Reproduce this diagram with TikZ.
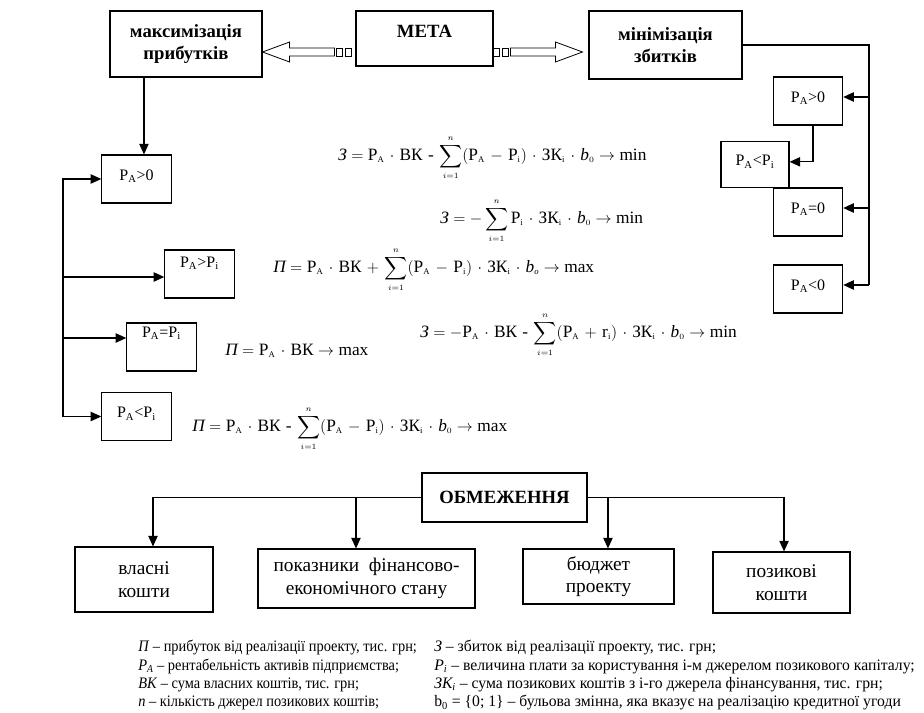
\documentclass[tikz,border=0pt,12pt]{standalone}
\usepackage{amsmath}
\usepackage{fontspec}
\setmainfont{Liberation Serif}
\newfontfamily\legfont[FakeStretch=0.9]{Liberation Serif}
\newfontfamily\legfontr[FakeStretch=0.98]{Liberation Serif}
\usepackage{tikz}
\usetikzlibrary{arrows.meta, positioning, calc}

% pieces of the formulas
\newcommand{\fPA}{\text{Р}_{\scriptscriptstyle\text{А}}}
\newcommand{\fPi}{\text{Р}_{\scriptscriptstyle\text{i}}}
\newcommand{\fVK}{\text{ВК}}
\newcommand{\fZK}{\text{ЗК}_{\scriptscriptstyle\text{i}}}
\newcommand{\fbz}{\textit{b}_{\scriptscriptstyle 0}}
\newcommand{\fZ}{\textit{З}}
\newcommand{\fPr}{\textit{П}}
\newcommand{\fhy}{\mathbin{\text{-}}}
\newcommand{\fsum}{\displaystyle\sum_{\scriptscriptstyle i=1}^{\scriptscriptstyle n}}

\tikzset{fatarrow/.pic={
    \draw[line width=0.6pt] (0,0) -- (27,-10) -- (27,-4) -- (72,-4) -- (72,4) -- (27,4) -- (27,10) -- cycle;
    \draw[line width=0.6pt] (74,-4) rectangle (80,4) (83,-4) rectangle (89,4);
}}

\begin{document}
\begin{tikzpicture}[x=0.75pt, y=-0.75pt,
        box/.style={
            draw,
            line width=0.8pt,
            align=center,
            inner sep=1pt},
        head/.style={box, font=\bfseries\fontsize{14}{17}\selectfont},
        low/.style={box, font=\fontsize{14.5}{17}\selectfont},
        cond/.style={box, minimum width=52pt, minimum height=36pt, text depth=6pt},
        formula/.style={anchor=west, inner sep=0, font=\fontsize{13}{15}\selectfont,
            execute at begin node={\medmuskip=6mu plus 2mu minus 2mu}},
        legend/.style={anchor=north west, align=left, inner sep=0},
        >={Triangle[length=8pt, width=7pt]},
        conn/.style={line width=1pt}]

        \useasboundingbox (0,0) rectangle (924,713);

        % goal and its two directions
        \node[head, minimum width=114pt, minimum height=49.5pt] (maks) at (186,44) {максимізація\\прибутків};
        \node[head, minimum width=102.75pt, minimum height=41.25pt, text depth=10pt] (meta) at (424.5,38.5) {МЕТА};
        \node[head, minimum width=114.75pt, minimum height=51pt] (minb) at (665.5,45) {мінімізація\\збитків};
        \pic at ([yshift=-6pt]maks.east) {fatarrow};
        \pic[xscale=-1] at ([xshift=-4.5pt, yshift=-5.25pt]minb.west) {fatarrow};

        % profit side
        \node[cond] (pa0l) at (136.5,179) {P\textsubscript{A}>0};
        \node[cond, text depth=18pt] (pagl) at (199.5,274) {P\textsubscript{A}>P\textsubscript{i}};
        \node[cond, text depth=22pt] (pael) at (161.5,347) {P\textsubscript{A}=P\textsubscript{i}};
        \node[cond] (pall) at (136.5,416.5) {P\textsubscript{A}<P\textsubscript{i}};
        \coordinate (ltr) at (63,0);

        \draw[conn, ->] ([xshift=5.6pt]pa0l.north |- maks.south) -- ([xshift=5.6pt]pa0l.north);
        \draw[conn, ->] (pall.west -| ltr) -- (pa0l.west -| ltr) -- (pa0l.west);
        \draw[conn, ->] ([yshift=-2.25pt]pagl.west -| ltr) -- ([yshift=-2.25pt]pagl.west);
        \draw[conn, ->] ([yshift=6.75pt]pael.west -| ltr) -- ([yshift=6.75pt]pael.west);
        \draw[conn, ->] (pall.west -| ltr) -- (pall.west);

        % loss side
        \node[cond] (pa0r) at (808,101) {P\textsubscript{A}>0};
        \node[cond, minimum width=51pt, minimum height=35pt] (papir) at (755,164.5) {P\textsubscript{A}<P\textsubscript{i}};
        \node[cond] (pazr) at (808,212) {P\textsubscript{A}=0};
        \node[cond] (panr) at (808,289) {P\textsubscript{A}<0};
        \coordinate (rtr) at (869,0);

        \draw[conn] (minb.east) -| ([yshift=3pt]panr.east -| rtr);
        \draw[conn, ->] ([yshift=3pt]pa0r.east -| rtr) -- ([yshift=3pt]pa0r.east);
        \draw[conn, ->] ([yshift=3pt]pazr.east -| rtr) -- ([yshift=3pt]pazr.east);
        \draw[conn, ->] ([yshift=3pt]panr.east -| rtr) -- ([yshift=3pt]panr.east);
        \draw[conn, ->] ([xshift=3.75pt]pa0r.south) |- ([yshift=2pt]papir.east);

        % formulas
        \node[formula] (fz1) at (338,158)
            {$\fZ = \fPA\cdot\fVK \fhy \fsum(\fPA - \fPi)\cdot\fZK\cdot\fbz \rightarrow \text{min}$};
        \node[formula] (fz2) at (440,221)
            {$\fZ = -\fsum\fPi\cdot\fZK\cdot\fbz \rightarrow \text{min}$};
        \node[formula] (fp1) at (273,270)
            {$\fPr = \fPA\cdot\fVK + \fsum(\fPA - \fPi)\cdot\fZK\cdot\textit{b}_{\scriptscriptstyle\textit{o}} \rightarrow \text{max}$};
        \node[formula] (fz3) at (420,335)
            {$\fZ = -\fPA\cdot\fVK \fhy \fsum(\fPA + \text{r}_{\scriptscriptstyle\text{i}})\cdot\fZK\cdot\fbz \rightarrow \text{min}$};
        \node[formula] (fp2) at (225,351)
            {$\fPr = \fPA\cdot\fVK \rightarrow \text{max}$};
        \node[formula] (fp3) at (192,429)
            {$\fPr = \fPA\cdot\fVK \fhy \fsum(\fPA - \fPi)\cdot\fZK\cdot\fbz \rightarrow \text{max}$};

        % constraints
        \node[head, minimum width=123.75pt, minimum height=36.75pt] (obm) at (504.5,497.5) {ОБМЕЖЕННЯ};
        \node[low, minimum width=103.5pt, minimum height=48.75pt] (vlasni) at (144,579.5) {власні\\кошти};
        \node[low, minimum width=162.75pt, minimum height=44.25pt] (pokaz) at (366.5,578.5) {показники\ \ фінансово-\\економічного стану};
        \node[low, minimum width=113.25pt, minimum height=41.25pt] (budget) at (598.5,576.5) {бюджет\\проекту};
        \node[low, minimum width=102.75pt, minimum height=45.75pt] (pozyk) at (781.5,582.5) {позикові\\кошти};

        \draw[conn, ->] (obm.west) -| ([xshift=6.75pt]vlasni.north);
        \draw[conn, ->] ([xshift=-7.9pt]pokaz.north |- obm.west) -- ([xshift=-7.9pt]pokaz.north);
        \draw[conn, ->] (obm.east) -| ([xshift=1.9pt]pozyk.north);
        \draw[conn, ->] ([xshift=7.1pt]budget.north |- obm.east) -- ([xshift=7.1pt]budget.north);

        % legend
        \node[legend, font=\legfont\fontsize{12}{13.8}\selectfont] (legl) at (138,640)
            {\textit{П} – прибуток від реалізації проекту, тис. грн;\\
             \textit{P\textsubscript{A}} – рентабельність активів підприємства;\\
             \textit{ВК} – сума власних коштів, тис. грн;\\
             \textit{n} – кількість джерел позикових коштів;};
        \node[legend, font=\legfontr\fontsize{12}{13.8}\selectfont] (legr) at (434,640)
            {\textit{З} – збиток від реалізації проекту, тис. грн;\\
             \textit{P\textsubscript{i}} – величина плати за користування і-м джерелом позикового капіталу;\\
             \textit{ЗК\textsubscript{i}} – сума позикових коштів з і-го джерела фінансування, тис. грн;\\
             b\textsubscript{0} = \{0; 1\} – бульова змінна, яка вказує на реалізацію кредитної угоди};
    \end{tikzpicture}
\end{document}
